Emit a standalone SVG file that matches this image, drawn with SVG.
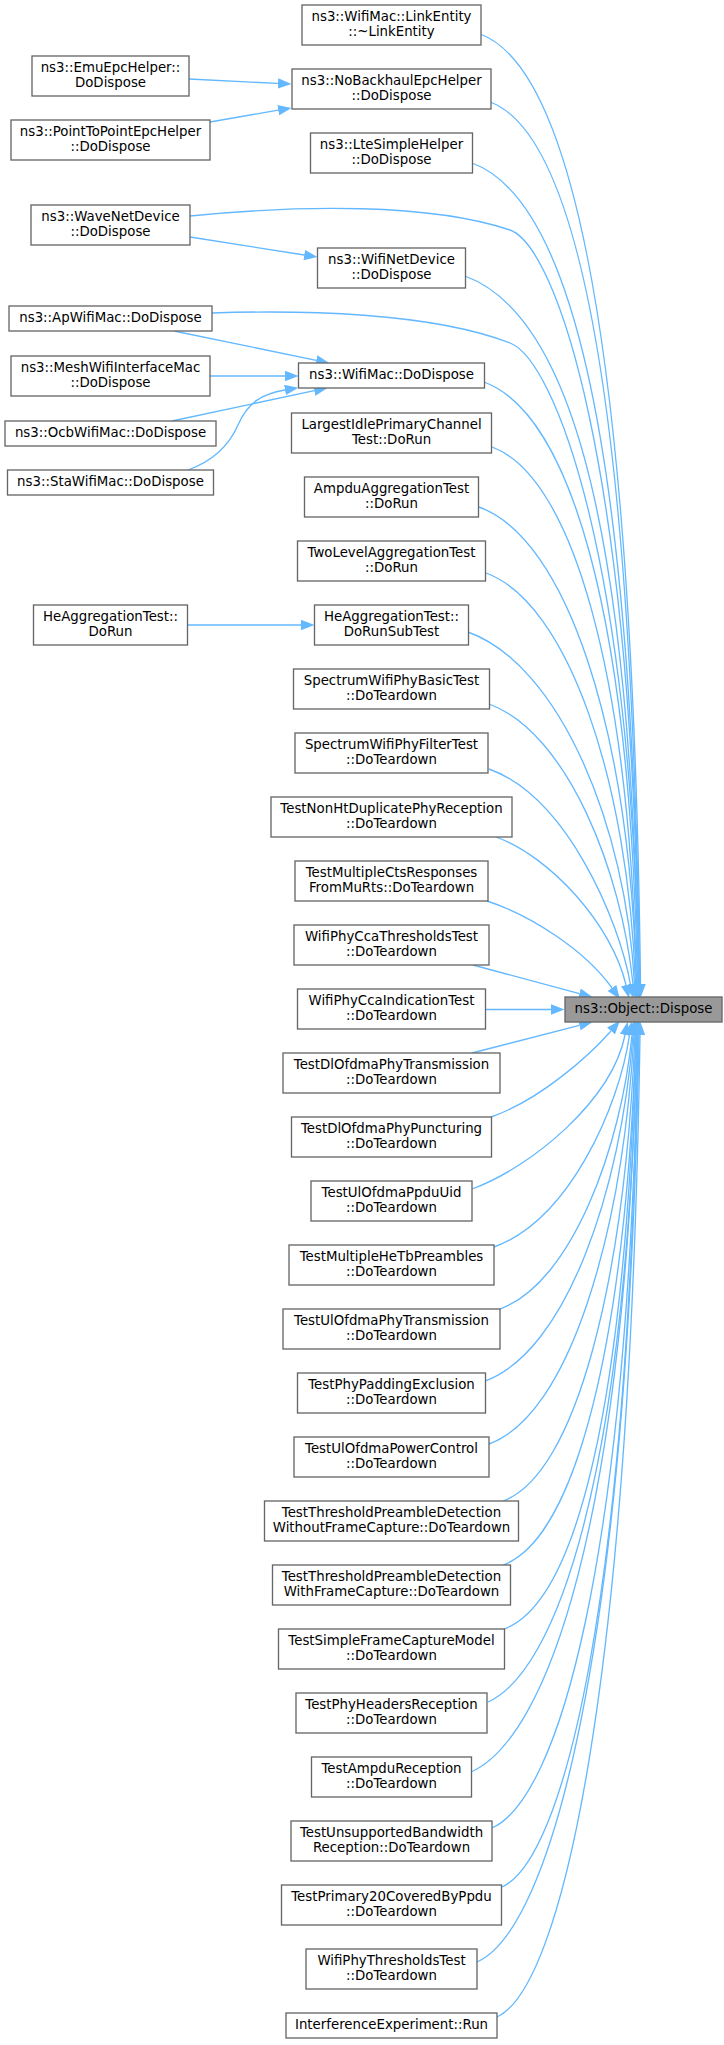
<svg xmlns="http://www.w3.org/2000/svg" width="724" height="2045" viewBox="0 0 724 2045">
<style>
.n rect{fill:#ffffff;stroke:#666666;stroke-width:1.33}
.n text{font-family:"DejaVu Sans","Noto Sans",sans-serif;font-size:13.33px;text-anchor:middle;fill:#000000}
#root rect{fill:#999999}
.e path{fill:none;stroke:#63b8ff;stroke-width:1.33;marker-end:url(#ah)}
</style>
<defs>
<marker id="ah" viewBox="0 0 13.5 10.5" markerWidth="13.5" markerHeight="10.5" refX="0" refY="5.25" orient="auto" markerUnits="userSpaceOnUse">
<path d="M0,0 L13.5,5.25 L0,10.5 Z" fill="#63b8ff"/>
</marker>
</defs>
<rect width="724" height="2045" fill="#ffffff"/>
<g class="e" id="edges">
<path d="M480,34 C568,66 632.5,319 640.5,984"/>
<path d="M189,79 L278,83.4"/>
<path d="M210,122 L278.2,110.2"/>
<path d="M490,102 C572,132 632,367 639.5,984"/>
<path d="M472,163 C564,196.5 631,409 639.5,984"/>
<path d="M190,216 C300,205 430,203 510,230 C555,246 632.5,456 639,984"/>
<path d="M190,237 L304.2,255"/>
<path d="M465,276 C560,311 630,488 638.5,984"/>
<path d="M212,313 C300,310 430,312 510,343 C555,360 632,562 638.5,984"/>
<path d="M174,331 L316.3,360.4"/>
<path d="M210,376 L285,376"/>
<path d="M172,421 L314.3,390.7"/>
<path d="M188,470 C210,462 228,448 238,425 C248,402 262,394 285,390"/>
<path d="M484,382 C568,413 630,605 637.5,984"/>
<path d="M492,447 C571.5,476 629,670 636.5,984"/>
<path d="M479,507 C566,538.5 629,726 636.5,984"/>
<path d="M486,573 C568,603 628,781 635.5,984"/>
<path d="M187,625 L301,625"/>
<path d="M468,632 C559.5,665 626,825 634.5,984"/>
<path d="M489,704 C568,733 621.5,872 633,984"/>
<path d="M489,769 C567,797 619,920 630.5,984.5"/>
<path d="M496,837 C551,857 612,925 626,985"/>
<path d="M487,901 C530,915 585,950 612,988"/>
<path d="M473,965 L579.4,993.6"/>
<path d="M485,1009.5 L551,1009.5"/>
<path d="M472,1053 L579.4,1025.3"/>
<path d="M491,1117 C540,1100 590,1055 611,1031"/>
<path d="M472,1189 C532,1167 612,1100 625,1035"/>
<path d="M494,1247 C568.5,1220 618.7,1109 629.5,1035"/>
<path d="M500,1309 C572.6,1282.6 621.4,1145 632,1035"/>
<path d="M485,1381 C566.4,1351.4 621,1190 633,1035"/>
<path d="M489,1444 C569,1415 622,1236 634,1035"/>
<path d="M503,1501 C575.6,1474.6 624.4,1283.4 635,1035"/>
<path d="M503,1565 C576,1538.4 625.4,1342 636,1035"/>
<path d="M504,1629 C576.6,1602.6 625.4,1406 636,1035"/>
<path d="M488,1702 C555,1672 626.6,1482 637,1035"/>
<path d="M471,1772 C545.7,1739 625.4,1529 637,1035"/>
<path d="M492,1828 C557.7,1799 627.8,1566 638,1035"/>
<path d="M502,1887 C563,1860 628.5,1606 638,1035"/>
<path d="M477,1962 C550,1930 627.7,1656 639,1035"/>
<path d="M497,2017 C561,1988 630,1693 640,1035"/>
</g>
<g class="n" id="root"><rect x="565" y="997" width="157" height="25"/><text x="643.5" y="1013">ns3::Object::Dispose</text></g>
<g class="n" id="n_linkentity"><rect x="302" y="5" width="179" height="40"/><text x="391.5" y="21.3">ns3::WifiMac::LinkEntity</text><text x="391.5" y="36">::~LinkEntity</text></g>
<g class="n" id="n_emuepc"><rect x="32" y="56" width="157" height="40"/><text x="110.5" y="72.3">ns3::EmuEpcHelper::</text><text x="110.5" y="87">DoDispose</text></g>
<g class="n" id="n_nobackhaul"><rect x="292" y="69" width="199" height="40"/><text x="391.5" y="85.3">ns3::NoBackhaulEpcHelper</text><text x="391.5" y="100">::DoDispose</text></g>
<g class="n" id="n_p2pepc"><rect x="11" y="120" width="199" height="40"/><text x="110.5" y="136.3">ns3::PointToPointEpcHelper</text><text x="110.5" y="151">::DoDispose</text></g>
<g class="n" id="n_ltesimple"><rect x="310.5" y="133" width="162" height="40"/><text x="391.5" y="149.3">ns3::LteSimpleHelper</text><text x="391.5" y="164">::DoDispose</text></g>
<g class="n" id="n_wavenet"><rect x="31" y="205" width="159" height="40"/><text x="110.5" y="221.3">ns3::WaveNetDevice</text><text x="110.5" y="236">::DoDispose</text></g>
<g class="n" id="n_wifinet"><rect x="317.5" y="248" width="148" height="40"/><text x="391.5" y="264.3">ns3::WifiNetDevice</text><text x="391.5" y="279">::DoDispose</text></g>
<g class="n" id="n_apwifimac"><rect x="9" y="306" width="203" height="25"/><text x="110.5" y="322">ns3::ApWifiMac::DoDispose</text></g>
<g class="n" id="n_meshwifi"><rect x="11" y="356" width="199" height="40"/><text x="110.5" y="372.3">ns3::MeshWifiInterfaceMac</text><text x="110.5" y="387">::DoDispose</text></g>
<g class="n" id="n_wifimac"><rect x="298.5" y="363" width="186" height="25"/><text x="391.5" y="379">ns3::WifiMac::DoDispose</text></g>
<g class="n" id="n_ocbwifimac"><rect x="5" y="421" width="211" height="25"/><text x="110.5" y="437">ns3::OcbWifiMac::DoDispose</text></g>
<g class="n" id="n_stawifimac"><rect x="7.5" y="470" width="206" height="25"/><text x="110.5" y="486">ns3::StaWifiMac::DoDispose</text></g>
<g class="n" id="n_largestidle"><rect x="291.5" y="413" width="200" height="40"/><text x="391.5" y="429.3">LargestIdlePrimaryChannel</text><text x="391.5" y="444">Test::DoRun</text></g>
<g class="n" id="n_ampduagg"><rect x="304.5" y="477" width="174" height="40"/><text x="391.5" y="493.3">AmpduAggregationTest</text><text x="391.5" y="508">::DoRun</text></g>
<g class="n" id="n_twolevel"><rect x="297.5" y="541" width="188" height="40"/><text x="391.5" y="557.3">TwoLevelAggregationTest</text><text x="391.5" y="572">::DoRun</text></g>
<g class="n" id="n_heaggrun"><rect x="33.5" y="605" width="154" height="40"/><text x="110.5" y="621.3">HeAggregationTest::</text><text x="110.5" y="636">DoRun</text></g>
<g class="n" id="n_heaggsub"><rect x="314.5" y="605" width="154" height="40"/><text x="391.5" y="621.3">HeAggregationTest::</text><text x="391.5" y="636">DoRunSubTest</text></g>
<g class="n" id="n_specbasic"><rect x="293.5" y="669" width="196" height="40"/><text x="391.5" y="685.3">SpectrumWifiPhyBasicTest</text><text x="391.5" y="700">::DoTeardown</text></g>
<g class="n" id="n_specfilter"><rect x="295" y="733" width="193" height="40"/><text x="391.5" y="749.3">SpectrumWifiPhyFilterTest</text><text x="391.5" y="764">::DoTeardown</text></g>
<g class="n" id="n_nonht"><rect x="271" y="797" width="241" height="40"/><text x="391.5" y="813.3">TestNonHtDuplicatePhyReception</text><text x="391.5" y="828">::DoTeardown</text></g>
<g class="n" id="n_multicts"><rect x="295" y="861" width="193" height="40"/><text x="391.5" y="877.3">TestMultipleCtsResponses</text><text x="391.5" y="892">FromMuRts::DoTeardown</text></g>
<g class="n" id="n_ccathr"><rect x="294" y="925" width="195" height="40"/><text x="391.5" y="941.3">WifiPhyCcaThresholdsTest</text><text x="391.5" y="956">::DoTeardown</text></g>
<g class="n" id="n_ccaind"><rect x="297.5" y="989" width="188" height="40"/><text x="391.5" y="1005.3">WifiPhyCcaIndicationTest</text><text x="391.5" y="1020">::DoTeardown</text></g>
<g class="n" id="n_dltrans"><rect x="283" y="1053" width="217" height="40"/><text x="391.5" y="1069.3">TestDlOfdmaPhyTransmission</text><text x="391.5" y="1084">::DoTeardown</text></g>
<g class="n" id="n_dlpunct"><rect x="291.5" y="1117" width="200" height="40"/><text x="391.5" y="1133.3">TestDlOfdmaPhyPuncturing</text><text x="391.5" y="1148">::DoTeardown</text></g>
<g class="n" id="n_ulppdu"><rect x="311" y="1181" width="161" height="40"/><text x="391.5" y="1197.3">TestUlOfdmaPpduUid</text><text x="391.5" y="1212">::DoTeardown</text></g>
<g class="n" id="n_hetb"><rect x="289" y="1245" width="205" height="40"/><text x="391.5" y="1261.3">TestMultipleHeTbPreambles</text><text x="391.5" y="1276">::DoTeardown</text></g>
<g class="n" id="n_ultrans"><rect x="283" y="1309" width="217" height="40"/><text x="391.5" y="1325.3">TestUlOfdmaPhyTransmission</text><text x="391.5" y="1340">::DoTeardown</text></g>
<g class="n" id="n_padding"><rect x="297.5" y="1373" width="188" height="40"/><text x="391.5" y="1389.3">TestPhyPaddingExclusion</text><text x="391.5" y="1404">::DoTeardown</text></g>
<g class="n" id="n_ulpower"><rect x="294" y="1437" width="195" height="40"/><text x="391.5" y="1453.3">TestUlOfdmaPowerControl</text><text x="391.5" y="1468">::DoTeardown</text></g>
<g class="n" id="n_thrwithout"><rect x="264.5" y="1501" width="254" height="40"/><text x="391.5" y="1517.3">TestThresholdPreambleDetection</text><text x="391.5" y="1532">WithoutFrameCapture::DoTeardown</text></g>
<g class="n" id="n_thrwith"><rect x="272.5" y="1565" width="238" height="40"/><text x="391.5" y="1581.3">TestThresholdPreambleDetection</text><text x="391.5" y="1596">WithFrameCapture::DoTeardown</text></g>
<g class="n" id="n_simplecap"><rect x="278.5" y="1629" width="226" height="40"/><text x="391.5" y="1645.3">TestSimpleFrameCaptureModel</text><text x="391.5" y="1660">::DoTeardown</text></g>
<g class="n" id="n_phyheaders"><rect x="296" y="1693" width="191" height="40"/><text x="391.5" y="1709.3">TestPhyHeadersReception</text><text x="391.5" y="1724">::DoTeardown</text></g>
<g class="n" id="n_ampdurx"><rect x="311.5" y="1757" width="160" height="40"/><text x="391.5" y="1773.3">TestAmpduReception</text><text x="391.5" y="1788">::DoTeardown</text></g>
<g class="n" id="n_unsupbw"><rect x="291" y="1821" width="201" height="40"/><text x="391.5" y="1837.3">TestUnsupportedBandwidth</text><text x="391.5" y="1852">Reception::DoTeardown</text></g>
<g class="n" id="n_primary20"><rect x="281.5" y="1885" width="220" height="40"/><text x="391.5" y="1901.3">TestPrimary20CoveredByPpdu</text><text x="391.5" y="1916">::DoTeardown</text></g>
<g class="n" id="n_phythr"><rect x="306" y="1949" width="171" height="40"/><text x="391.5" y="1965.3">WifiPhyThresholdsTest</text><text x="391.5" y="1980">::DoTeardown</text></g>
<g class="n" id="n_interf"><rect x="286" y="2013" width="211" height="25"/><text x="391.5" y="2029">InterferenceExperiment::Run</text></g>
</svg>
